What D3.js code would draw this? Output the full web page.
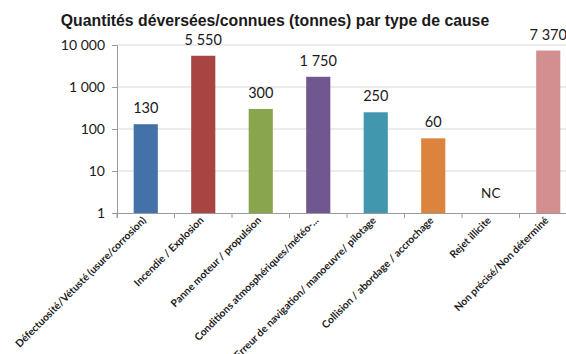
<!DOCTYPE html>
<html>
<head>
<meta charset="utf-8">
<script src="https://cdn.jsdelivr.net/npm/d3@7"></script>
<style>
  html, body { margin: 0; padding: 0; background: #fff; }
  svg { display: block; }
</style>
</head>
<body>
<svg id="chart" width="566" height="354"></svg>
<script>
const title = "Quantités déversées/connues (tonnes) par type de cause";
const categories = [
  "Défectuosité/Vétusté (usure/corrosion)",
  "Incendie / Explosion",
  "Panne moteur / propulsion",
  "Conditions atmosphériques/météo-...",
  "Erreur de navigation/ manoeuvre/ pilotage",
  "Collision / abordage / accrochage",
  "Rejet illicite",
  "Non précisé/Non déterminé"
];
const values = [130, 5550, 300, 1750, 250, 60, null, 7370];
const valueLabels = ["130", "5 550", "300", "1 750", "250", "60", "NC", "7 370"];
const colors = ["#4472a8", "#a84442", "#89a64f", "#71578f", "#4097ae", "#dc843d", "#cccccc", "#d38f8f"];
const yTicks = [1, 10, 100, 1000, 10000];
const yTickLabels = ["1", "10", "100", "1 000", "10 000"];

const svg = d3.select("#chart");
const mLeft = 117, mRight = 577, mTop = 45, mBottom = 213;

const x = d3.scaleBand().domain(categories).range([mLeft, mRight]).paddingInner(0.58).paddingOuter(0.29);
const xb = d3.scaleBand().domain(categories).range([mLeft, mRight]);
const y = d3.scaleLog().domain([1, 10000]).range([mBottom, mTop]);

// title
svg.append("text")
  .attr("x", 275).attr("y", 26)
  .attr("text-anchor", "middle")
  .attr("font-family", "Liberation Sans, Arial, sans-serif")
  .attr("font-weight", "bold")
  .attr("font-size", 15.8)
  .attr("fill", "#1a1a1a")
  .text(title);

// gridlines
svg.append("g").selectAll("line").data(yTicks.slice(1)).join("line")
  .attr("x1", mLeft).attr("x2", 566)
  .attr("y1", d => y(d)).attr("y2", d => y(d))
  .attr("stroke", "#d9d9d9").attr("stroke-width", 1);

// y axis
const yAxis = d3.axisLeft(y).tickValues(yTicks)
  .tickFormat((d, i) => yTickLabels[i]).tickSize(5).tickPadding(7);
const gy = svg.append("g").attr("transform", `translate(${mLeft},0)`).call(yAxis);
gy.select(".domain").attr("stroke", "#9a9a9a");
gy.selectAll(".tick line").attr("stroke", "#9a9a9a");
gy.selectAll(".tick text")
  .attr("font-family", "Lato, Open Sans, sans-serif")
  .attr("font-size", 14).attr("fill", "#1a1a1a");

// bars
svg.append("g").selectAll("rect").data(categories.map((c, i) => ({c, v: values[i], i})).filter(d => d.v != null))
  .join("rect")
  .attr("x", d => x(d.c))
  .attr("width", x.bandwidth())
  .attr("y", d => y(d.v))
  .attr("height", d => mBottom - y(d.v))
  .attr("fill", d => colors[d.i]);

// x axis
const xAxis = d3.axisBottom(xb).tickSize(5).tickFormat("");
const gx = svg.append("g").attr("transform", `translate(0,${mBottom})`).call(xAxis);
gx.select(".domain").attr("stroke", "#9a9a9a");
gx.selectAll(".tick").remove();
gx.selectAll(".btick").data(d3.range(categories.length + 1)).join("line")
  .attr("x1", i => mLeft + i * xb.step()).attr("x2", i => mLeft + i * xb.step())
  .attr("y1", 0).attr("y2", 5).attr("stroke", "#9a9a9a");

// value labels
svg.append("g").selectAll("text").data(categories.map((c, i) => ({c, v: values[i], l: valueLabels[i]})))
  .join("text")
  .attr("x", d => x(d.c) + x.bandwidth() / 2)
  .attr("y", d => d.v == null ? 198 : y(d.v) - 11)
  .attr("text-anchor", "middle")
  .attr("font-family", "Lato, Open Sans, sans-serif")
  .attr("font-size", d => d.v == null ? 13.5 : 14.5)
  .attr("fill", "#1a1a1a")
  .text(d => d.l);

// category labels
svg.append("g").selectAll("text").data(categories).join("text")
  .attr("transform", d => `translate(${xb(d) + xb.bandwidth() / 2 + 1},${mBottom + 8}) rotate(-45)`)
  .attr("text-anchor", "end")
  .attr("font-family", "Lato, Open Sans, sans-serif")
  .attr("font-weight", "bold")
  .attr("font-size", 10.3)
  .attr("fill", "#1a1a1a")
  .text(d => d);
</script>
</body>
</html>
